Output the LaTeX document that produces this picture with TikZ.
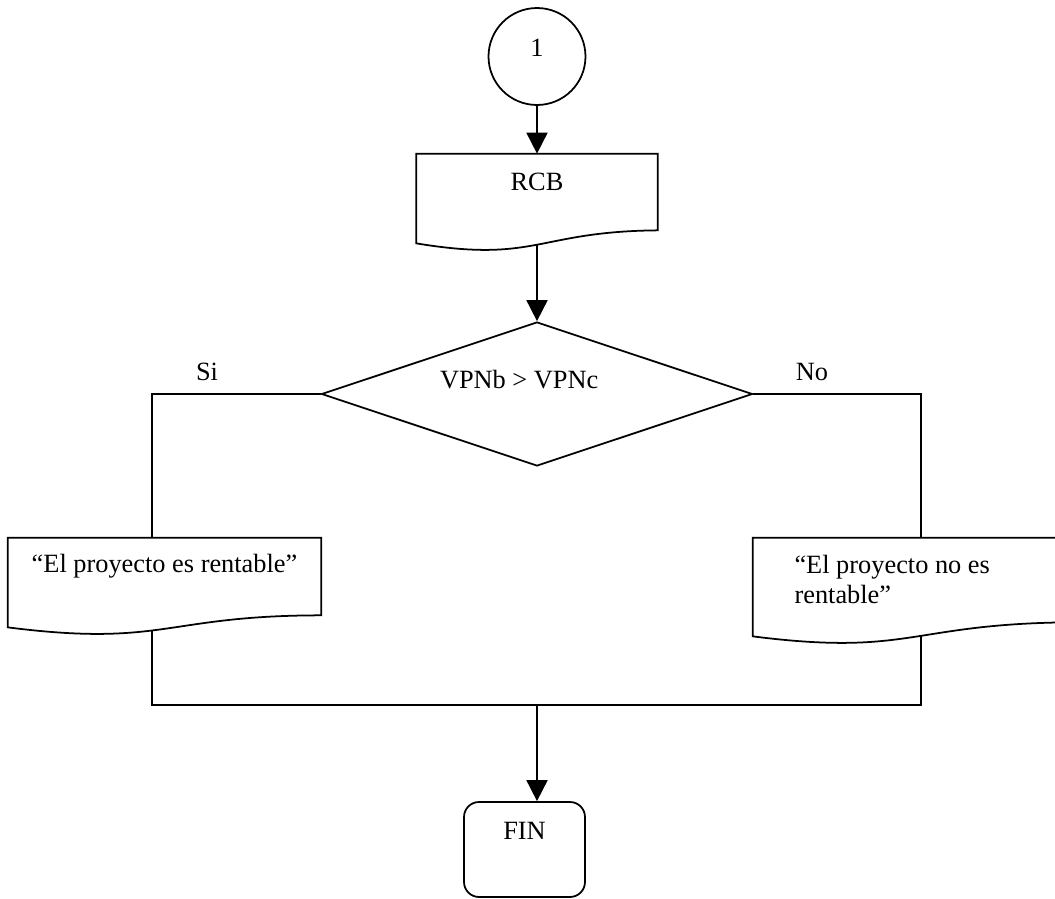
\documentclass[tikz,border=0pt]{standalone}
\usepackage{fontspec}
\setmainfont{Liberation Serif}
\usetikzlibrary{shapes.geometric,arrows.meta,calc}

\pgfdeclarelayer{lines}
\pgfdeclarelayer{docs}
\pgfsetlayers{lines,docs,main}

% contorno de documento (borde inferior ondulado)
\newcommand{\docoutline}[2]{%
  \begin{pgfonlayer}{docs}
    \draw[flowline, fill=white] (#1.south west) -- (#1.north west) -- (#1.north east)
      -- ([yshift=#2]#1.south east)
      .. controls ($(#1.south west)!0.5!(#1.south east)+(0,0.24cm)$)
      and ($(#1.south west)!0.5!(#1.south east)+(0,-0.4cm)$) .. (#1.south west) -- cycle;
  \end{pgfonlayer}}

\begin{document}
\begin{tikzpicture}[
        x=0.02cm, y=-0.02cm,
        every node/.style={font=\fontsize{15}{17.5}\selectfont, inner sep=0pt},
        flowline/.style={draw=black, line width=1pt},
        flowarrow/.style={flowline, -{Triangle[length=0.42cm, width=0.42cm]}},
        connector/.style={circle, flowline, minimum size=1.94cm, text height=0.3cm, text depth=0.3cm},
        docbox/.style={rectangle, minimum width=4.82cm, minimum height=1.78cm},
        decision/.style={diamond, flowline, aspect=3, minimum width=8.62cm, minimum height=2.88cm},
        terminal/.style={rectangle, flowline, rounded corners=0.3cm, minimum width=2.42cm, minimum height=1.9cm}
    ]
        \useasboundingbox (0,0) rectangle (1055,899);

        % Nodos del diagrama
        \node[connector] (c1) at (537,56.5) {1};
        \node[docbox, text height=0.72cm, text depth=1.06cm] (rcb) at (537,198.5) {RCB};
        \node[decision, text width=3.88cm, align=flush left, text height=0.36cm, text depth=0.6cm] (dia) at (537,394) {VPNb > VPNc};
        \node[docbox, minimum width=6.26cm, text height=0.68cm, text depth=1.10cm] (ldoc) at (164.5,582.5) {“El proyecto es rentable”};
        \node[docbox, minimum width=6.26cm, minimum height=1.96cm, text width=4.6cm, align=flush left,
              text height=0.70cm, text depth=1.26cm] (rdoc) at (909.5,587) {“El proyecto no es rentable”};
        \node[terminal, text height=0.74cm, text depth=1.16cm] (fin) at (524.5,849.5) {FIN};
        \node[anchor=base] (si) at (207,380) {Si};
        \node[anchor=base] (no) at (812,380) {No};
        \coordinate (merge) at (537,705);

        \docoutline{rcb}{0.26cm}
        \docoutline{ldoc}{0.24cm}
        \docoutline{rdoc}{0.28cm}

        % Conexiones
        \begin{pgfonlayer}{lines}
            \draw[flowarrow] (c1) -- (rcb.north);
            \draw[flowarrow] (rcb.center) -- (dia.north);
            \draw[flowline] (dia.west) -| ([xshift=-0.25cm]ldoc.north);
            \draw[flowline] (dia.east) -| ([xshift=0.23cm]rdoc.north);
            \draw[flowline] ([xshift=-0.25cm]ldoc.center) |- (merge) -| ([xshift=0.23cm]rdoc.center);
            \draw[flowarrow] (merge) -- (merge |- fin.north);
        \end{pgfonlayer}
    \end{tikzpicture}
\end{document}
